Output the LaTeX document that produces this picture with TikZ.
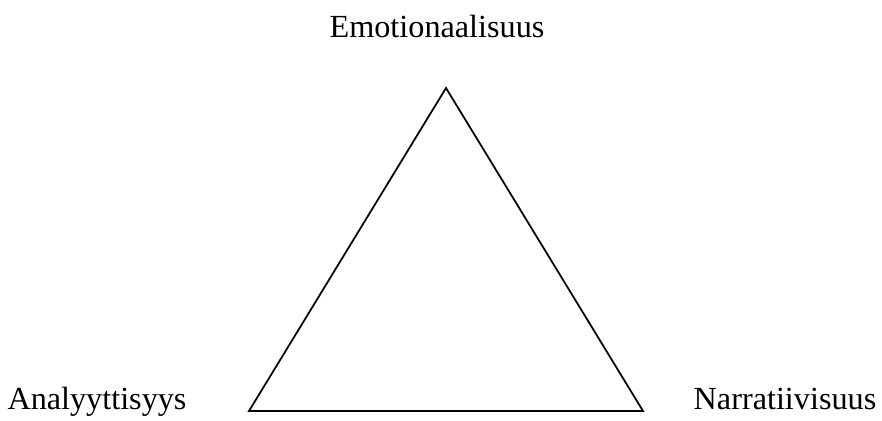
\documentclass[tikz,border=0pt]{standalone}
\usepackage{fontspec}
\setmainfont{Liberation Serif}
\usepackage{tikz}
\usetikzlibrary{positioning}

\begin{document}
\begin{tikzpicture}[
    x=0.03cm, y=-0.03cm,
    corner/.style={font=\fontsize{27.5}{32}\selectfont, anchor=base, inner sep=0pt},
    side/.style={line width=1.5pt, line join=miter}
]
    \useasboundingbox (0,0) rectangle (882,421);

    % Corners of the triangle
    \coordinate (top) at (446,88);
    \coordinate (left) at (249,411);
    \coordinate (right) at (643,411);

    \draw[side] (top) -- (left) -- (right) -- cycle;

    % Labels
    \node[corner] (emo) at (437,37) {Emotionaalisuus};
    \node[corner] (ana) at (97,409) {Analyyttisyys};
    \node[corner] (nar) at (785,409) {Narratiivisuus};
\end{tikzpicture}
\end{document}
